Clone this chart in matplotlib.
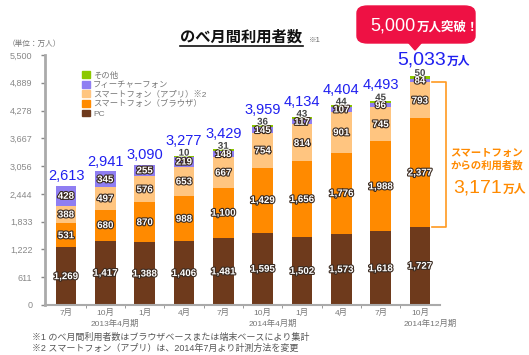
import numpy as np
import matplotlib
matplotlib.use("Agg")
import matplotlib.pyplot as plt
import matplotlib.patheffects as pe
from matplotlib.patches import FancyBboxPatch, Polygon
from matplotlib.lines import Line2D

plt.rcParams['font.family'] = ['Liberation Sans', 'Noto Sans CJK JP', 'DejaVu Sans']

months = ["7月", "10月", "1月", "4月", "7月", "10月", "1月", "4月", "7月", "10月"]
pc = [1269, 1417, 1388, 1406, 1481, 1595, 1502, 1573, 1618, 1727]
browser = [531, 680, 870, 988, 1100, 1429, 1656, 1776, 1988, 2377]
app = [388, 497, 576, 653, 667, 754, 814, 901, 745, 793]
feature = [428, 345, 255, 219, 148, 145, 117, 107, 96, 84]
other = [0, 0, 0, 10, 31, 36, 43, 44, 45, 50]
totals = [2613, 2941, 3090, 3277, 3429, 3959, 4134, 4404, 4493, 5033]
yticks = [0, 611, 1222, 1833, 2444, 3056, 3667, 4278, 4889, 5500]
periods = [(1.25, "2013年4月期"), (5.27, "2014年4月期"), (9.26, "2014年12月期")]

series = [
    ("PC", pc, "#6e3a1c"),
    ("スマートフォン（ブラウザ）", browser, "#ff8a00"),
    ("スマートフォン（アプリ）※2", app, "#ffc580"),
    ("フィーチャーフォン", feature, "#8f7ef2"),
    ("その他", other, "#8cc800"),
]

W, H = 529, 355
fig = plt.figure(figsize=(W / 100, H / 100), dpi=100)
ax = fig.add_axes([45 / W, 1 - 305 / H, 395 / W, 250 / H])


def px(x, y):
    return x / W, 1 - y / H


x = np.arange(len(months))
bottom = np.zeros(len(months))
outline = [pe.withStroke(linewidth=1.6, foreground="#3a2a20")]
for i, (name, vals, col) in enumerate(series):
    vals = np.array(vals, dtype=float)
    ax.bar(x, vals, 0.53, bottom=bottom, color=col, edgecolor="none", zorder=2)
    if i < 4:
        for xi, b, v in zip(x, bottom, vals):
            ax.text(xi, b + v / 2, f"{int(v):,}", ha="center", va="center",
                    fontsize=7, color="white", fontweight="bold",
                    path_effects=outline, zorder=4)
    bottom += vals

for xi, top, o, t in zip(x, bottom, other, totals):
    off = 2
    if o > 0:
        ax.annotate(f"{o}", (xi, top), xytext=(0, 2.5), textcoords="offset points",
                    ha="center", va="center", fontsize=7, color="#444",
                    fontweight="bold",
                    path_effects=[pe.withStroke(linewidth=1.5, foreground="white")],
                    zorder=5)
        off = 6
    if xi < 9:
        ax.annotate(f"{t:,}", (xi, top), xytext=(0, off), textcoords="offset points",
                    ha="center", va="bottom", fontsize=10.5, color="#2020f0",
                    zorder=5)

ax.set_xlim(-0.534, 9.51)
ax.set_ylim(0, 5500)
ax.set_yticks(yticks)
ax.set_yticklabels([f"{v:,}" for v in yticks])
ax.set_xticks(x)
ax.set_xticklabels(months)
ax.set_xticks(x[:-1] + 0.5, minor=True)
ax.tick_params(axis="y", labelsize=6.5, colors="#888", length=3, width=1, pad=6)
ax.tick_params(axis="x", which="major", labelsize=6, colors="#777", length=0, pad=2.5)
ax.tick_params(axis="x", which="minor", length=2, color="#888")
for s in ["top", "right"]:
    ax.spines[s].set_visible(False)
ax.spines["left"].set_color("#aaaaaa")
ax.spines["left"].set_linewidth(2)
ax.spines["bottom"].set_color("#aaaaaa")
ax.spines["bottom"].set_linewidth(1.5)

for xp, lab in periods:
    ax.annotate(lab, (xp, 0), xytext=(0, -10.5), textcoords="offset points",
                ha="center", va="top", fontsize=6, color="#777",
                annotation_clip=False)

handles = [plt.Rectangle((0, 0), 1, 1, color=c) for _, _, c in series][::-1]
labels = [n for n, _, _ in series][::-1]
leg = ax.legend(handles, labels, loc="upper left", bbox_to_anchor=px(78, 67),
                bbox_transform=fig.transFigure, frameon=False, fontsize=6,
                handlelength=0.9, handleheight=0.9, handletextpad=0.4,
                labelspacing=0.15, borderpad=0)
for t in leg.get_texts():
    t.set_color("#777")

# title
fig.text(*px(241, 37), "のべ月間利用者数", ha="center", va="center",
         fontsize=11, fontweight="bold", color="#111")
fig.add_artist(Line2D([180 / W, 303 / W], [1 - 46 / H] * 2, color="#111", lw=1.2))
fig.text(*px(309, 40), "※1", ha="left", va="center", fontsize=5.5, color="#666")
fig.text(*px(8, 44), "（単位：万人）", ha="left", va="center", fontsize=5.5, color="#777")

# callout
fig.add_artist(FancyBboxPatch(px(357, 43), 118 / W, 37 / H,
                              boxstyle="round,pad=0,rounding_size=0.02",
                              transform=fig.transFigure, color="#ee1144"))
fig.add_artist(Polygon([px(408, 42), px(422, 42), px(415, 50)], closed=True,
                       transform=fig.transFigure, color="#ee1144"))
fig.text(*px(416, 26), "5,000", ha="right", va="center", fontsize=13, color="white")
fig.text(*px(417, 27), "万人突破！", ha="left", va="center", fontsize=9,
         color="white", fontweight="bold")

fig.text(*px(446, 60), "5,033", ha="right", va="center", fontsize=14, color="#2020f0")
fig.text(*px(447, 62), "万人", ha="left", va="center", fontsize=8.5,
         color="#2020f0", fontweight="bold")

# smartphone bracket
y_top = pc[-1] + browser[-1] + app[-1]
y_bot = pc[-1]
ax.plot([9.3, 9.65, 9.65, 9.3], [y_top, y_top, y_bot, y_bot], color="#ff9a20",
        lw=1.2, clip_on=False, zorder=3)
orange = "#ff8a00"
fig.text(*px(487, 159), "スマートフォン\nからの利用者数", ha="center", va="center",
         fontsize=7.5, color=orange, fontweight="bold", linespacing=1.3)
fig.text(*px(502, 188), "3,171", ha="right", va="center", fontsize=14, color=orange)
fig.text(*px(503, 190), "万人", ha="left", va="center", fontsize=8.5,
         color=orange, fontweight="bold")

fig.text(*px(32, 337), "※1 のべ月間利用者数はブラウザベースまたは端末ベースにより集計",
         ha="left", va="center", fontsize=6.5, color="#555")
fig.text(*px(32, 348), "※2 スマートフォン（アプリ）は、2014年7月より計測方法を変更",
         ha="left", va="center", fontsize=6.5, color="#555")

fig.savefig("out.png", dpi=100, facecolor="white")
